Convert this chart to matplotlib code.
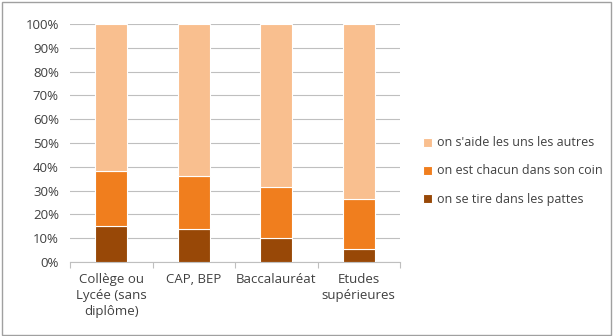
import matplotlib
matplotlib.use("Agg")
import matplotlib.pyplot as plt
from matplotlib.ticker import PercentFormatter

plt.rcParams['font.family'] = ['Open Sans', 'DejaVu Sans']

categories = ["Collège ou\nLycée (sans\ndiplôme)", "CAP, BEP", "Baccalauréat", "Etudes\nsupérieures"]
tire = [15.0, 13.9, 10.1, 5.5]
chacun = [23.1, 22.3, 21.4, 20.8]
aide = [61.9, 63.8, 68.5, 73.7]
labels = ["on se tire dans les pattes", "on est chacun dans son coin", "on s'aide les uns les autres"]
colors = ["#984807", "#F07E1E", "#F9BF8F"]

fig = plt.figure(figsize=(6.13, 3.36), dpi=100)
ax = fig.add_axes([70 / 613, 1 - 262 / 336, 330 / 613, 238 / 336])

x = range(len(categories))
bottom = [0] * len(categories)
handles = []
for vals, lab, col in zip([tire, chacun, aide], labels, colors):
    h = ax.bar(x, vals, bottom=bottom, width=0.39, color=col, edgecolor="white",
               linewidth=0.8, label=lab, zorder=3)
    handles.append(h)
    bottom = [b + v for b, v in zip(bottom, vals)]

ax.set_ylim(0, 100)
ax.set_xlim(-0.5, 3.5)
ax.set_yticks(range(0, 101, 10))
ax.yaxis.set_major_formatter(PercentFormatter(decimals=0))
ax.grid(axis="y", color="#BFBFBF", linewidth=0.8, zorder=0)
for s in ["top", "right", "left"]:
    ax.spines[s].set_visible(False)
ax.spines["bottom"].set_color("#BFBFBF")
ax.tick_params(axis="y", length=0, labelsize=9.5, colors="#404040", pad=8)
ax.set_xticks([-0.5, 0.5, 1.5, 2.5, 3.5], minor=False)
ax.set_xticklabels([])
ax.tick_params(axis="x", length=4, color="#BFBFBF")
ax.set_xticks(list(x), minor=True)
ax.set_xticklabels(categories, minor=True, fontsize=9.5, color="#404040", linespacing=1.3)
ax.tick_params(axis="x", which="minor", length=0, pad=8)

ax.legend(handles[::-1], labels[::-1], loc="center left", bbox_to_anchor=(412 / 613, 165 / 336),
          bbox_transform=fig.transFigure, frameon=False, fontsize=9, handlelength=0.7,
          handleheight=0.7, handletextpad=0.4, labelspacing=1.2, labelcolor="#404040")

border = plt.Rectangle((0.004, 0.004), 0.992, 0.99, transform=fig.transFigure, fill=False,
                       edgecolor="#A0A0A0", linewidth=1)
fig.add_artist(border)

fig.savefig("out.png", dpi=100)
